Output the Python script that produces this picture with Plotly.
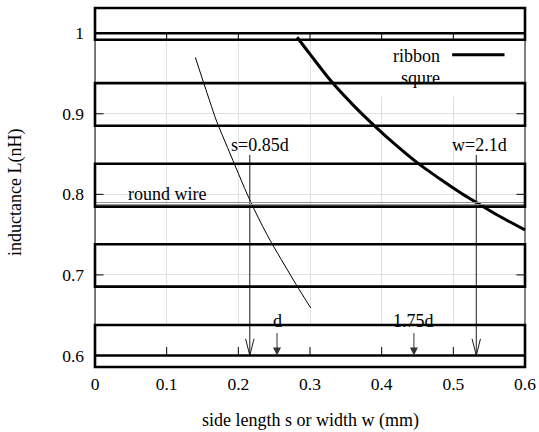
import plotly.graph_objects as go

# ---------------- data ----------------
square_s = [0.140, 0.160, 0.170, 0.185, 0.200, 0.217, 0.240, 0.260, 0.280, 0.301]
square_L = [0.970, 0.916, 0.890, 0.858, 0.826, 0.791, 0.750, 0.719, 0.689, 0.659]

ribbon_w = [0.282, 0.300, 0.330, 0.360, 0.390, 0.420, 0.450, 0.480, 0.510, 0.530, 0.560, 0.600]
ribbon_L = [0.995, 0.974, 0.940, 0.911, 0.885, 0.861, 0.839, 0.820, 0.802, 0.791, 0.775, 0.756]

round_wire_L = [0.7899, 0.7874]

big_arrow_x = [0.216, 0.532]
big_arrow_labels = ["s=0.85d", "w=2.1d"]
small_arrow_x = [0.254, 0.445]
small_arrow_labels = ["d", "1.75d"]

x_ticks = [0, 0.1, 0.2, 0.3, 0.4, 0.5, 0.6]
x_tick_labels = ["0", "0.1", "0.2", "0.3", "0.4", "0.5", "0.6"]
y_ticks = [0.6, 0.7, 0.8, 0.9, 1.0]
y_tick_labels = ["0.6", "0.7", "0.8", "0.9", "1"]

# ---------------- layout constants ----------------
FONT = "Liberation Serif, Times New Roman, Times, serif"
X0, X1 = 0.0, 0.6
Y0, Y1 = 0.5857, 1.0313
PX_X = 430 / (X1 - X0)   # pixels per x unit
PX_Y = 359 / (Y1 - Y0)   # pixels per y unit
PAD = 3                  # extra pixels round the frame so thick edges are not clipped
XR = [X0 - PAD / PX_X, X1 + PAD / PX_X]
YR = [Y0 - PAD / PX_Y, Y1 + PAD / PX_Y]
THICK = 2.6

fig = go.Figure()

# curves
fig.add_trace(go.Scatter(x=square_s, y=square_L, mode="lines",
                         line=dict(color="black", width=1, shape="spline"),
                         hoverinfo="skip", showlegend=False))
fig.add_trace(go.Scatter(x=ribbon_w, y=ribbon_L, mode="lines",
                         line=dict(color="black", width=3, shape="spline"),
                         hoverinfo="skip", showlegend=False))

shapes = []
annotations = []

# white fills (cover gridlines, drawn below traces)
shapes.append(dict(type="rect", xref="x", yref="y", x0=XR[0], x1=XR[1], y0=YR[0], y1=0.6379,
                   fillcolor="white", line=dict(width=0), layer="between"))
shapes.append(dict(type="rect", xref="x", yref="y", x0=XR[0], x1=XR[1], y0=0.992, y1=YR[1],
                   fillcolor="white", line=dict(width=0), layer="between"))
shapes.append(dict(type="rect", xref="x", yref="y", x0=0.35, x1=X1, y0=0.9215, y1=0.992,
                   fillcolor="white", line=dict(width=0), layer="between"))
for xv in (XR[0], X1):
    shapes.append(dict(type="rect", xref="x", yref="y", x0=xv, x1=xv + PAD / PX_X,
                       y0=YR[0], y1=YR[1], fillcolor="white", line=dict(width=0),
                       layer="between"))

# round wire double line
for v in round_wire_L:
    shapes.append(dict(type="line", xref="x", yref="y", x0=X0, x1=X1, y0=v, y1=v,
                       line=dict(color="#959595", width=1), layer="above"))

# thin frame sides
for xv in (X0, X1):
    shapes.append(dict(type="line", xref="x", yref="y", x0=xv, x1=xv, y0=Y0, y1=Y1,
                       line=dict(color="black", width=1), layer="above"))

# thick band rectangles
bands = [(0.5857, 0.6379), (0.6855, 0.7381), (0.7848, 0.8379),
         (0.8851, 0.9381), (0.9919, 1.0313)]
for lo, hi in bands:
    shapes.append(dict(type="rect", xref="x", yref="y", x0=X0, x1=X1, y0=lo, y1=hi,
                       line=dict(color="black", width=THICK), fillcolor="rgba(0,0,0,0)",
                       layer="above"))
for v in (0.6, 1.0):
    shapes.append(dict(type="line", xref="x", yref="y", x0=X0, x1=X1, y0=v, y1=v,
                       line=dict(color="black", width=THICK), layer="above"))

# tick marks
tl_y = 8.5 / PX_Y
tl_x = 8.5 / PX_X
for xv in x_ticks[1:-1]:
    shapes.append(dict(type="line", xref="x", yref="y", x0=xv, x1=xv, y0=0.6, y1=0.6 + tl_y,
                       line=dict(color="black", width=1), layer="above"))
    shapes.append(dict(type="line", xref="x", yref="y", x0=xv, x1=xv, y0=1.0, y1=0.9919,
                       line=dict(color="black", width=1), layer="above"))
for yv in y_ticks[1:-1]:
    shapes.append(dict(type="line", xref="x", yref="y", x0=X0, x1=X0 + tl_x, y0=yv, y1=yv,
                       line=dict(color="black", width=1), layer="above"))
    shapes.append(dict(type="line", xref="x", yref="y", x0=X1 - tl_x, x1=X1, y0=yv, y1=yv,
                       line=dict(color="black", width=1), layer="above"))

# big arrows with open V heads
head_dx = 4.2 / PX_X
head_dy = 16.7 / PX_Y
for xa, lab in zip(big_arrow_x, big_arrow_labels):
    fig.add_trace(go.Scatter(x=[xa, xa], y=[0.849, 0.6], mode="lines",
                             line=dict(color="#1a1a1a", width=1),
                             hoverinfo="skip", showlegend=False))
    fig.add_trace(go.Scatter(x=[xa - head_dx, xa, xa + head_dx],
                             y=[0.6 + head_dy, 0.6, 0.6 + head_dy], mode="lines",
                             line=dict(color="#1a1a1a", width=1),
                             hoverinfo="skip", showlegend=False))
    annotations.append(dict(x=xa + 0.014 - (0.01 if lab.startswith("w") else 0), y=0.861,
                            xref="x", yref="y", text=lab,
                            showarrow=False, xanchor="center", yanchor="middle",
                            font=dict(family=FONT, size=18, color="black")))

# small filled arrows
for xa, lab in zip(small_arrow_x, small_arrow_labels):
    annotations.append(dict(x=xa, y=0.6, ax=xa, ay=0.6296, xref="x", yref="y",
                            axref="x", ayref="y", text="", showarrow=True,
                            arrowhead=2, arrowsize=1.6, arrowwidth=1, arrowcolor="#333333",
                            standoff=0))
    annotations.append(dict(x=xa, y=0.6425, xref="x", yref="y", text=lab,
                            showarrow=False, xanchor="center", yanchor="middle",
                            font=dict(family=FONT, size=18, color="black")))

# legend (gnuplot style: right-justified text, then sample)
annotations.append(dict(x=0.4845, y=0.9717, xref="x", yref="y", text="ribbon",
                        showarrow=False, xanchor="right", yanchor="middle",
                        font=dict(family=FONT, size=18, color="black")))
shapes.append(dict(type="line", xref="x", yref="y", x0=0.4984, x1=0.5714, y0=0.9733, y1=0.9733,
                   line=dict(color="black", width=3), layer="above"))
annotations.append(dict(x=0.4845, y=0.944, xref="x", yref="y", text="squre",
                        showarrow=False, xanchor="right", yanchor="middle",
                        font=dict(family=FONT, size=18, color="black")))

# round wire label
annotations.append(dict(x=0.1005, y=0.7999, xref="x", yref="y", text="round wire",
                        showarrow=False, xanchor="center", yanchor="middle",
                        font=dict(family=FONT, size=18, color="black")))

# axis titles (positions in pixels relative to the frame)
PLOT_L, PLOT_T = 95 - PAD, 8 - PAD
PLOT_W, PLOT_H = 430 + 2 * PAD, 359 + 2 * PAD
annotations.append(dict(x=(310.5 - PLOT_L) / PLOT_W, y=1 - (420.5 - PLOT_T) / PLOT_H,
                        xref="paper", yref="paper",
                        text="side length s or width w (mm)", showarrow=False,
                        xanchor="center", yanchor="middle",
                        font=dict(family=FONT, size=18, color="black")))
annotations.append(dict(x=(15 - PLOT_L) / PLOT_W, y=1 - (193 - PLOT_T) / PLOT_H,
                        xref="paper", yref="paper",
                        text="inductance L(nH)", showarrow=False, textangle=-90,
                        xanchor="center", yanchor="middle",
                        font=dict(family=FONT, size=18, color="black")))

fig.update_layout(
    width=539, height=432,
    margin=dict(l=PLOT_L, r=539 - PLOT_L - PLOT_W, t=PLOT_T, b=432 - PLOT_T - PLOT_H,
                pad=0, autoexpand=False),
    paper_bgcolor="white", plot_bgcolor="white",
    shapes=shapes, annotations=annotations,
    showlegend=False,
    font=dict(family=FONT, size=17.5, color="black"),
    xaxis=dict(range=XR, tickvals=x_ticks, ticktext=x_tick_labels, automargin=False,
               showgrid=True, gridcolor="#e0e0e0", gridwidth=1, zeroline=False,
               showline=False, ticks="", ticklabelstandoff=1,
               tickfont=dict(family=FONT, size=17.5, color="black")),
    yaxis=dict(range=YR, tickvals=y_ticks, ticktext=y_tick_labels, automargin=False,
               showgrid=True, gridcolor="#e0e0e0", gridwidth=1, zeroline=False,
               showline=False, ticks="", ticklabelstandoff=7,
               tickfont=dict(family=FONT, size=17.5, color="black")),
)

fig.write_html("out.html")
